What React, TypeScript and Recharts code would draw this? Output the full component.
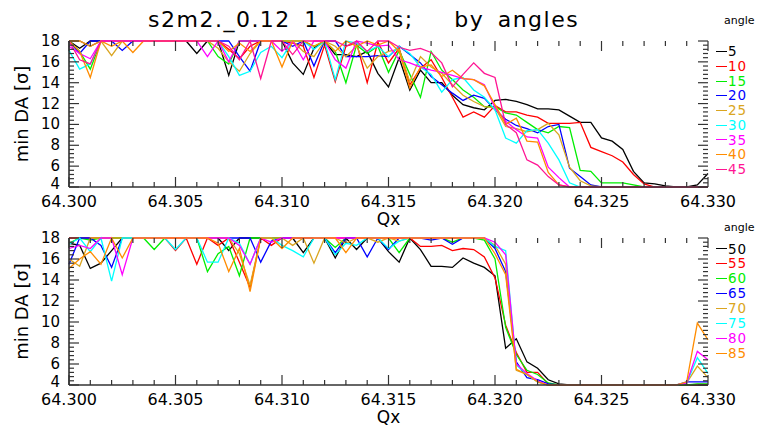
import { LineChart, Line, XAxis, YAxis, Legend } from "recharts"

const FONT = "'DejaVu Sans', sans-serif"

// Qx sample points
const qx = [
  64.3, 64.3005, 64.301, 64.3015, 64.302, 64.3025, 64.303, 64.3035, 64.304, 64.3045,
  64.305, 64.3055, 64.306, 64.3065, 64.307, 64.3075, 64.308, 64.3085, 64.309, 64.3095,
  64.31, 64.3105, 64.311, 64.3115, 64.312, 64.3125, 64.313, 64.3135, 64.314, 64.3145,
  64.315, 64.3155, 64.316, 64.3165, 64.317, 64.3175, 64.318, 64.3185, 64.319, 64.3195,
  64.32, 64.3205, 64.321, 64.3215, 64.322, 64.3225, 64.323, 64.3235, 64.324, 64.3245,
  64.325, 64.3255, 64.326, 64.3265, 64.327, 64.3275, 64.328, 64.3285, 64.329, 64.3295,
  64.33,
]

// top panel: angles 5..45
const a5 = [
  18, 17.3, 18, 18, 18, 18, 18, 18, 18, 18,
  18, 18, 16.8, 18, 18, 14.7, 18, 18, 18, 18,
  18, 15.9, 14.8, 17.3, 18, 16.7, 16.7, 16.5, 17, 14.9,
  13.6, 16.4, 13.3, 15.2, 14, 14, 12.8, 11.9, 11.6, 11.4,
  12.3, 12.4, 12.2, 11.9, 11.5, 11.5, 11.4, 10.8, 10.2, 10.2,
  8.7, 8.4, 7.6, 5.5, 4.4, 4.3, 4.1, 4, 4, 4.2, 5.3,
]
const a10 = [
  18, 18, 17.5, 18, 18, 18, 18, 18, 18, 18,
  18, 18, 18, 18, 18, 17.2, 16.3, 17.5, 18, 18,
  18, 17.8, 17.5, 14.5, 17.6, 14.1, 17.5, 17.8, 14, 17.9,
  15.9, 17.3, 13.8, 15.4, 16.2, 14.5, 12.6, 10.7, 11.2, 10.7,
  11.8, 11.2, 11.2, 10.9, 10.7, 10.1, 10.1, 10.1, 10.2, 7.8,
  7.4, 7, 6.4, 5.2, 4.3, 4, 4, 4, 4, 4, 4,
]
const a15 = [
  18, 17, 15.3, 18, 18, 18, 18, 18, 18, 18,
  18, 18, 18, 18, 16.5, 15.8, 18, 18, 18, 18,
  18, 18, 18, 17.5, 18, 17, 14, 17.6, 16.8, 17.5,
  15, 17.1, 14.8, 12.6, 17, 15.2, 14.3, 13.3, 12.6, 11.7,
  11.7, 11.1, 10.9, 10.2, 9.5, 9.2, 9.8, 9.7, 5.6, 5.5,
  4.4, 4.4, 4.4, 4.2, 4, 4, 4, 4, 4, 4, 4,
]
const a20 = [
  18, 16.8, 18, 18, 18, 17.1, 18, 18, 18, 18,
  18, 18, 18, 18, 18, 18, 16.5, 15.1, 18, 18,
  18, 17.5, 18, 15.6, 18, 18, 16.5, 16.5, 16.5, 16.6,
  16.5, 17.5, 16.7, 15.9, 14.6, 13.8, 13, 12.3, 12.8, 12.5,
  11.4, 10.5, 9.9, 9.6, 9.2, 9.8, 10, 5.8, 5, 4.2,
  4, 4, 4, 4, 4, 4, 4, 4, 4, 4, 4,
]
const a25 = [
  18, 18, 17.5, 18, 16.6, 18, 18, 18, 18, 18,
  18, 18, 18, 18, 17.3, 16, 15.1, 16.8, 18, 18,
  18, 18, 17, 16.5, 18, 17.5, 16.5, 17.5, 15.4, 16.5,
  17, 17.2, 14.1, 16.5, 15.5, 14.9, 13.8, 12.8, 12.2, 11.7,
  11.6, 9.8, 9.6, 9.3, 9.5, 10.1, 9, 5.9, 4.6, 4.1,
  4, 4, 4, 4, 4, 4, 4, 4, 4, 4, 4,
]
const a30 = [
  17.1, 15.3, 15.8, 18, 18, 18, 18, 18, 18, 18,
  18, 18, 18, 18, 18, 16.5, 14.7, 15.1, 16.9, 17.5,
  16.4, 18, 18, 17.2, 18, 14.3, 18, 17.8, 17, 17.5,
  16.5, 17.5, 16.8, 15.5, 14.8, 13.1, 14.3, 14.5, 13.3, 12.6,
  11.4, 8.7, 8.2, 9.4, 9.5, 8.2, 6.6, 4.4, 4, 4,
  4, 4, 4, 4, 4, 4, 4, 4, 4, 4, 4,
]
const a35 = [
  17.5, 16.8, 16.3, 18, 18, 18, 18, 18, 18, 18,
  18, 18, 18, 16.5, 18, 16, 18, 18, 18, 18,
  17, 18, 16.2, 18, 18, 16.2, 15.4, 18, 17.8, 17.5,
  17.6, 16.2, 15.9, 15.5, 15.2, 15, 14.7, 14.4, 14.3, 13.8,
  11.6, 10.3, 9.5, 8.8, 8.7, 5.9, 4.9, 4, 4, 4,
  4, 4, 4, 4, 4, 4, 4, 4, 4, 4, 4,
]
const a40 = [
  18, 17, 14.5, 18, 17.5, 18, 16.9, 18, 18, 18,
  18, 18, 18, 18, 18, 17, 17.8, 17, 18, 18,
  15.5, 18, 18, 17.5, 18, 17, 18, 17.5, 18, 17.6,
  18, 17, 13.5, 15.5, 15.7, 14.6, 15.2, 14.4, 14.3, 13.7,
  11.9, 10, 10.6, 8.4, 8.3, 5.4, 4.2, 4, 4, 4,
  4, 4, 4, 4, 4, 4, 4, 4, 4, 4, 4,
]
const a45 = [
  18, 16.2, 15.8, 18, 18, 18, 18, 18, 18, 18,
  18, 18, 18, 18, 18, 17.5, 16.2, 18, 14.4, 18,
  18, 16.7, 18, 18, 18, 18, 17.5, 18, 17, 18,
  18, 17.4, 17.1, 17.3, 16.9, 15.9, 13.6, 14.8, 15.9, 14.9,
  14.5, 10, 9.2, 6.6, 6.1, 5, 4.2, 4, 4, 4,
  4, 4, 4, 4, 4, 4, 4, 4, 4, 4, 4,
]

// bottom panel: angles 50..85
const a50 = [
  17.5, 17.3, 15.1, 15.6, 16.8, 18, 18, 18, 18, 18,
  18, 18, 18, 18, 18, 16.8, 18, 18, 18, 18,
  18, 18, 16.6, 18, 18, 16.1, 18, 16.9, 18, 18,
  16.7, 15.7, 18, 16.9, 15.3, 15.3, 15.2, 16.1, 15.6, 15.2,
  14.4, 7.5, 8.4, 6.2, 5.6, 4.5, 4.1, 4, 4, 4,
  4, 4, 4, 4, 4, 4, 4, 4, 4, 4, 4,
]
const a55 = [
  18, 18, 18, 18, 18, 18, 18, 18, 18, 18,
  16.8, 18, 15.5, 18, 17.3, 18, 15.7, 13.3, 18, 17.3,
  18, 18, 18, 18, 18, 18, 18, 18, 18, 18,
  18, 18, 18, 17.2, 17.2, 17.3, 16.8, 17, 16.9, 16.2,
  14.2, 9.7, 7.1, 5.2, 5.2, 4.1, 4, 4, 4, 4,
  4, 4, 4, 4, 4, 4, 4, 4, 4, 4.05, 4.05,
]
const a60 = [
  17.5, 18, 17.8, 18, 18, 18, 18, 18, 16.9, 18,
  18, 18, 18, 14.8, 16.5, 17.2, 14.4, 18, 18, 18,
  18, 18, 18, 18, 18, 17.1, 18, 18, 18, 18,
  18, 16.6, 18, 18, 18, 18, 17.6, 18, 18, 17.8,
  16, 9.5, 6.9, 5.4, 5, 4.2, 4, 4, 4, 4,
  4, 4, 4, 4, 4, 4, 4, 4, 4, 4.1, 4.1,
]
const a65 = [
  15.5, 18, 18, 17.3, 15.2, 18, 18, 18, 18, 18,
  18, 18, 18, 18, 18, 18, 18, 18, 15.7, 17.7,
  18, 18, 18, 18, 18, 16.6, 18, 18, 16.2, 18,
  16.9, 18, 18, 18, 17.8, 18, 17.4, 18, 18, 18,
  17, 14.8, 6.2, 4.7, 4.5, 4.1, 4, 4, 4, 4,
  4, 4, 4, 4, 4, 4, 4, 4, 4.3, 4.3, 4.3,
]
const a70 = [
  16, 15.3, 18, 18, 18, 18, 18, 18, 18, 18,
  18, 18, 18, 18, 18, 18, 16.5, 13.5, 18, 18,
  18, 17.3, 18, 15.6, 18, 18, 17.5, 18, 18, 17.6,
  18, 17.7, 18, 18, 18, 18, 18, 18, 18, 18,
  17.3, 15.5, 5.4, 5, 4.3, 4, 4, 4, 4, 4,
  4, 4, 4, 4, 4, 4, 4, 4, 4.2, 5.8, 4.7,
]
const a75 = [
  17.4, 18, 16.7, 18, 13.9, 18, 18, 18, 18, 18,
  16.9, 18, 18, 15.7, 15.7, 18, 17.5, 15.5, 18, 18,
  17.3, 16.8, 16.2, 18, 18, 16.4, 17.5, 17.3, 18, 18,
  17, 17.7, 18, 18, 18, 18, 18, 18, 18, 18,
  17.2, 16.8, 5.9, 5, 4.3, 4, 4, 4, 4, 4,
  4, 4, 4, 4, 4, 4, 4, 4, 4.2, 6.6, 5.1,
]
const a80 = [
  17, 17.3, 17, 18, 18, 14.5, 18, 18, 18, 18,
  18, 18, 18, 18, 18, 18, 17.3, 15.5, 18, 17.6,
  18, 18, 18, 18, 18, 18, 18, 18, 18, 18,
  18, 18, 18, 18, 18, 18, 18, 18, 18, 18,
  17.6, 16.4, 6, 5.1, 4.4, 4, 4, 4, 4, 4,
  4, 4, 4, 4, 4, 4, 4, 4, 4.2, 7.2, 6.4,
]
const a85 = [
  15.1, 16, 16.7, 15.5, 18, 16.1, 18, 18, 18, 18,
  18, 18, 18, 18, 17.5, 14.8, 17, 12.9, 18, 18,
  17, 18, 18, 18, 18, 18, 16.6, 18, 18, 18,
  18, 18, 18, 18, 18, 18, 18, 18, 18, 18,
  16.5, 14.5, 5.5, 5, 4.3, 4, 4, 4, 4, 4,
  4, 4, 4, 4, 4, 4, 4, 4, 4.3, 9.9, 8.3,
]

const xTicks = [
  64.3, 64.301, 64.302, 64.303, 64.304, 64.305, 64.306, 64.307, 64.308, 64.309,
  64.31, 64.311, 64.312, 64.313, 64.314, 64.315, 64.316, 64.317, 64.318, 64.319,
  64.32, 64.321, 64.322, 64.323, 64.324, 64.325, 64.326, 64.327, 64.328, 64.329,
  64.33,
]
const xLabels = [64.3, 64.305, 64.31, 64.315, 64.32, 64.325, 64.33]
const yTicks = [
  4, 4.4, 4.8, 5.2, 5.6, 6, 6.4, 6.8, 7.2, 7.6, 8, 8.4, 8.8, 9.2, 9.6, 10, 10.4, 10.8,
  11.2, 11.6, 12, 12.4, 12.8, 13.2, 13.6, 14, 14.4, 14.8, 15.2, 15.6, 16, 16.4, 16.8, 17.2, 17.6, 18,
]
const yLabels = [4, 6, 8, 10, 12, 14, 16, 18]

const topSeries = [
  { name: "5", values: a5, color: "#000000" },
  { name: "10", values: a10, color: "#ff0000" },
  { name: "15", values: a15, color: "#00ee00" },
  { name: "20", values: a20, color: "#0000ff" },
  { name: "25", values: a25, color: "#daa520" },
  { name: "30", values: a30, color: "#00ffff" },
  { name: "35", values: a35, color: "#ff00ff" },
  { name: "40", values: a40, color: "#ff8c00" },
  { name: "45", values: a45, color: "#ff1493" },
]
const bottomSeries = [
  { name: "50", values: a50, color: "#000000" },
  { name: "55", values: a55, color: "#ff0000" },
  { name: "60", values: a60, color: "#00ee00" },
  { name: "65", values: a65, color: "#0000ff" },
  { name: "70", values: a70, color: "#daa520" },
  { name: "75", values: a75, color: "#00ffff" },
  { name: "80", values: a80, color: "#ff00ff" },
  { name: "85", values: a85, color: "#ff8c00" },
]

const PLOT_W = 639
const AXIS_H = 43
const near = (list: number[], v: number) => list.some((l) => Math.abs(l - v) < 1e-6)

function makeXTick(plotH: number) {
  return (p: any) => {
    const v = p.payload.value
    const major = near(xLabels, v)
    const len = major ? 10 : 5
    return (
      <g>
        <line x1={p.x} x2={p.x} y1={p.y} y2={p.y - len} stroke="#333" strokeWidth={1.2} />
        <line x1={p.x} x2={p.x} y1={p.y - plotH} y2={p.y - plotH + len} stroke="#333" strokeWidth={1.2} />
        {major && (
          <text x={p.x} y={p.y + 19.5} textAnchor="middle" fontSize={16} fill="#000">
            {v.toFixed(3)}
          </text>
        )}
      </g>
    )
  }
}

function YTick(p: any) {
  const v = p.payload.value
  const major = near(yLabels, v)
  const len = major ? 10 : 5
  const dy = v === 4 ? 2 : 5
  return (
    <g>
      <line x1={p.x} x2={p.x + len} y1={p.y} y2={p.y} stroke="#333" strokeWidth={1.2} />
      <line x1={p.x + PLOT_W} x2={p.x + PLOT_W - len} y1={p.y} y2={p.y} stroke="#333" strokeWidth={1.2} />
      {major && (
        <text x={p.x - 9} y={p.y + dy} textAnchor="end" fontSize={15} fill="#000">
          {Math.round(v)}
        </text>
      )}
    </g>
  )
}

function makeLegend(series: any[], gap: number, step: number) {
  return () => (
    <div style={{ fontFamily: FONT }}>
      <div style={{ fontSize: 11, height: 14, lineHeight: "14px", paddingLeft: 8, color: "#000" }}>angle</div>
      <div style={{ height: gap }} />
      {series.map((s: any) => (
        <div key={s.name} style={{ height: step, display: "flex", alignItems: "center", color: s.color }}>
          <div style={{ width: 11, height: 0, borderTop: `1.5px solid ${s.color}`, marginRight: 1 }} />
          <div style={{ fontSize: 13.5, letterSpacing: 1, height: step, lineHeight: step + "px" }}>{s.name}</div>
        </div>
      ))}
    </div>
  )
}

function Panel({ series, top, plotTop, plotH, legendTop, legendGap, legendStep }: any) {
  const rows = qx.map((x, i) => {
    const r: any = { qx: x }
    series.forEach((s: any) => (r["s" + s.name] = s.values[i]))
    return r
  })
  const height = plotTop + plotH + AXIS_H
  return (
    <div style={{ position: "absolute", left: 0, top, fontFamily: FONT }}>
      <LineChart width={767} height={height} data={rows} margin={{ top: plotTop, right: 59, bottom: 0, left: 0 }}>
        <XAxis
          xAxisId="b"
          dataKey="qx"
          type="number"
          domain={[64.3, 64.33]}
          ticks={xTicks}
          interval={0}
          height={AXIS_H}
          tickSize={0}
          tickMargin={0}
          tickLine={false}
          tick={makeXTick(plotH)}
          axisLine={{ stroke: "#333", strokeWidth: 1.5 }}
          label={{ value: "Qx", position: "insideTop", offset: 26, style: { fontSize: 17, fill: "#000" } }}
        />
        <XAxis
          xAxisId="t"
          orientation="top"
          dataKey="qx"
          type="number"
          domain={[64.3, 64.33]}
          height={0}
          tick={false}
          tickLine={false}
          axisLine={{ stroke: "#222", strokeWidth: 1.2 }}
        />
        <YAxis
          yAxisId="l"
          type="number"
          domain={[4, 18]}
          ticks={yTicks}
          interval={0}
          width={69}
          tickSize={0}
          tickMargin={0}
          tickLine={false}
          tick={YTick}
          axisLine={{ stroke: "#222", strokeWidth: 1.5 }}
          label={{
            value: "min DA [σ]",
            angle: -90,
            position: "insideLeft",
            offset: 22,
            style: { textAnchor: "middle", fontSize: 18, fill: "#000" },
          }}
        />
        <YAxis
          yAxisId="r"
          orientation="right"
          type="number"
          domain={[4, 18]}
          width={0}
          tick={false}
          tickLine={false}
          axisLine={{ stroke: "#444", strokeWidth: 1.2 }}
        />
        {series.map((s: any) => (
          <Line
            key={s.name}
            xAxisId="b"
            yAxisId="l"
            type="linear"
            dataKey={"s" + s.name}
            name={s.name}
            stroke={s.color}
            strokeWidth={1.3}
            dot={false}
            isAnimationActive={false}
          />
        ))}
        <Legend
          layout="vertical"
          align="center"
          verticalAlign="middle"
          content={makeLegend(series, legendGap, legendStep)}
          wrapperStyle={{ left: 716, top: legendTop, width: 51 }}
        />
      </LineChart>
    </div>
  )
}

export default function App() {
  return (
    <div
      style={{
        position: "absolute",
        left: 0,
        top: 0,
        width: 767,
        height: 428,
        overflow: "hidden",
        background: "#fff",
        fontFamily: FONT,
      }}
    >
      <div
        style={{
          position: "absolute",
          left: 148,
          top: 7,
          fontSize: 22,
          letterSpacing: 1.5,
          wordSpacing: 5,
          lineHeight: "26px",
          whiteSpace: "pre",
          color: "#000",
        }}
      >
        s2m2._0.12 1 seeds;   by angles
      </div>
      <Panel series={topSeries} top={0} plotTop={41} plotH={146} legendTop={14} legendGap={16.4} legendStep={14.7} />
      <Panel series={bottomSeries} top={198} plotTop={40} plotH={147} legendTop={23} legendGap={6.5} legendStep={14.9} />
    </div>
  )
}
